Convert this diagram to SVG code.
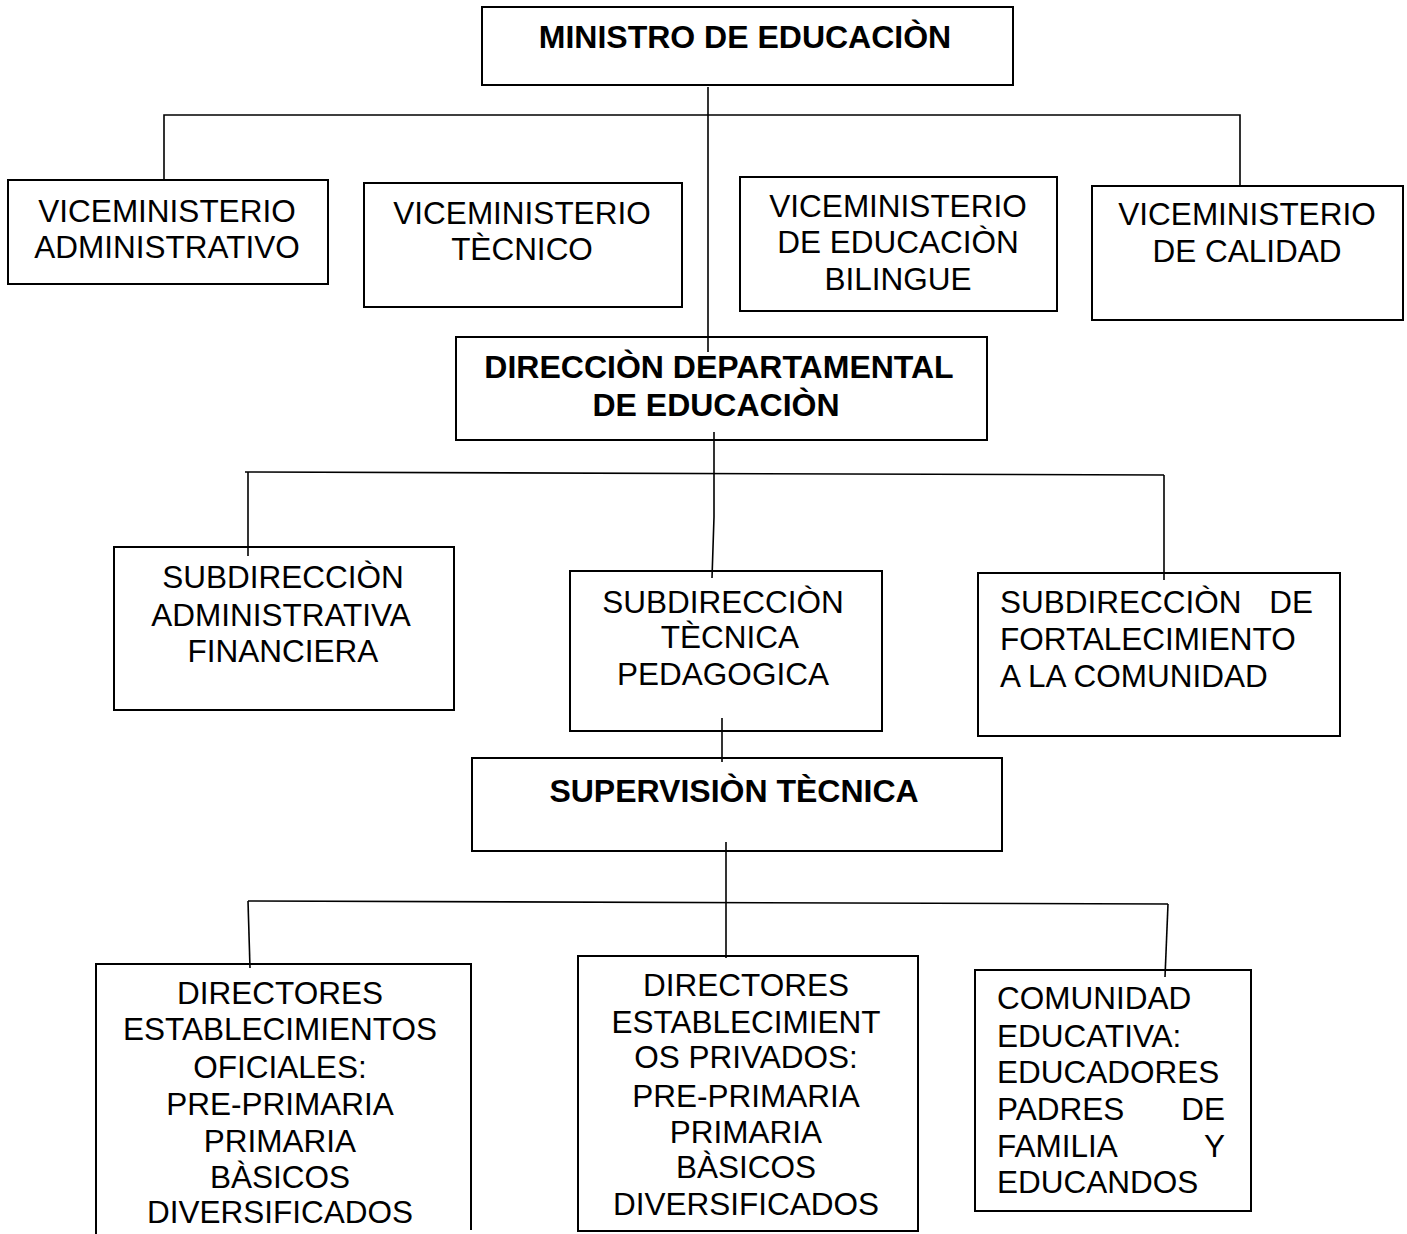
<svg xmlns="http://www.w3.org/2000/svg" width="1407" height="1234" viewBox="0 0 1407 1234">
<style>
.box{fill:#fff;stroke:#000;stroke-width:2}
.t{font-family:"Liberation Sans",Arial,sans-serif;font-size:31.5px;fill:#000}
.b{font-family:"Liberation Sans",Arial,sans-serif;font-size:32px;font-weight:bold;fill:#000}
.c{text-anchor:middle}
.e{text-anchor:end}
.ln{fill:none;stroke:#000;stroke-width:1.6}
</style>
<rect width="1407" height="1234" fill="#fff"/>
<g id="ministro">
<rect class="box" x="482" y="7" width="531" height="78"/>
<text class="b c" x="745" y="48">MINISTRO DE EDUCACIÒN</text>
</g>
<g id="vice-admin">
<rect class="box" x="8" y="180" width="320" height="104"/>
<text class="t c" x="167" y="222">VICEMINISTERIO</text>
<text class="t c" x="167" y="258">ADMINISTRATIVO</text>
</g>
<g id="vice-tecnico">
<rect class="box" x="364" y="183" width="318" height="124"/>
<text class="t c" x="522" y="224">VICEMINISTERIO</text>
<text class="t c" x="522" y="260">TÈCNICO</text>
</g>
<g id="vice-bilingue">
<rect class="box" x="740" y="177" width="317" height="134"/>
<text class="t c" x="898" y="217">VICEMINISTERIO</text>
<text class="t c" x="898" y="253">DE EDUCACIÒN</text>
<text class="t c" x="898" y="290">BILINGUE</text>
</g>
<g id="vice-calidad">
<rect class="box" x="1092" y="186" width="311" height="134"/>
<text class="t c" x="1247" y="225">VICEMINISTERIO</text>
<text class="t c" x="1247" y="262">DE CALIDAD</text>
</g>
<g id="direccion">
<rect class="box" x="456" y="337" width="531" height="103"/>
<text class="b c" x="719" y="378">DIRECCIÒN DEPARTAMENTAL</text>
<text class="b c" x="716" y="416">DE EDUCACIÒN</text>
</g>
<g id="subdir-admin">
<rect class="box" x="114" y="547" width="340" height="163"/>
<text class="t c" x="283" y="588">SUBDIRECCIÒN</text>
<text class="t c" x="281" y="626">ADMINISTRATIVA</text>
<text class="t c" x="283" y="662">FINANCIERA</text>
</g>
<g id="subdir-tecnica">
<rect class="box" x="570" y="571" width="312" height="160"/>
<text class="t c" x="723" y="613">SUBDIRECCIÒN</text>
<text class="t c" x="730" y="648">TÈCNICA</text>
<text class="t c" x="723" y="685">PEDAGOGICA</text>
</g>
<g id="subdir-fortalecimiento">
<rect class="box" x="978" y="573" width="362" height="163"/>
<text class="t" x="1000" y="613">SUBDIRECCIÒN</text>
<text class="t e" x="1313" y="613">DE</text>
<text class="t" x="1000" y="650">FORTALECIMIENTO</text>
<text class="t" x="1000" y="687">A LA COMUNIDAD</text>
</g>
<g id="supervision">
<rect class="box" x="472" y="758" width="530" height="93"/>
<text class="b c" x="734" y="802">SUPERVISIÒN TÈCNICA</text>
</g>
<g id="directores-oficiales">
<path class="box" d="M96,1240 V964 H471 V1230"/>
<text class="t c" x="280" y="1004">DIRECTORES</text>
<text class="t c" x="280" y="1040">ESTABLECIMIENTOS</text>
<text class="t c" x="280" y="1078">OFICIALES:</text>
<text class="t c" x="280" y="1115">PRE-PRIMARIA</text>
<text class="t c" x="280" y="1152">PRIMARIA</text>
<text class="t c" x="280" y="1188">BÀSICOS</text>
<text class="t c" x="280" y="1223">DIVERSIFICADOS</text>
</g>
<g id="directores-privados">
<rect class="box" x="578" y="956" width="340" height="275"/>
<text class="t c" x="746" y="996">DIRECTORES</text>
<text class="t c" x="746" y="1033">ESTABLECIMIENT</text>
<text class="t c" x="746" y="1068">OS PRIVADOS:</text>
<text class="t c" x="746" y="1107">PRE-PRIMARIA</text>
<text class="t c" x="746" y="1143">PRIMARIA</text>
<text class="t c" x="746" y="1178">BÀSICOS</text>
<text class="t c" x="746" y="1215">DIVERSIFICADOS</text>
</g>
<g id="comunidad">
<rect class="box" x="975" y="970" width="276" height="241"/>
<text class="t" x="997" y="1009">COMUNIDAD</text>
<text class="t" x="997" y="1047">EDUCATIVA:</text>
<text class="t" x="997" y="1083">EDUCADORES</text>
<text class="t" x="997" y="1120">PADRES</text>
<text class="t e" x="1225" y="1120">DE</text>
<text class="t" x="997" y="1157">FAMILIA</text>
<text class="t e" x="1225" y="1157">Y</text>
<text class="t" x="997" y="1193">EDUCANDOS</text>
</g>
<g id="connectors">
<path class="ln" d="M708,87 V352"/>
<path class="ln" d="M164,180 V115 H1240 V186"/>
<path class="ln" d="M714,432 V517 L712,578"/>
<path class="ln" d="M245,472 L1164,475"/>
<path class="ln" d="M248,472 V556"/>
<path class="ln" d="M1164,475 V580"/>
<path class="ln" d="M722,718 V762"/>
<path class="ln" d="M726,842 V958"/>
<path class="ln" d="M248,901 L1168,904"/>
<path class="ln" d="M248,901 L250,968"/>
<path class="ln" d="M1168,904 L1165,977"/>
</g>
</svg>
